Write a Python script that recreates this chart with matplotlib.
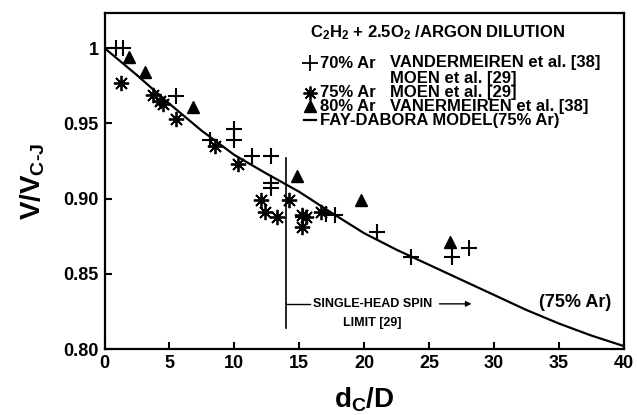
import numpy as np
import matplotlib
matplotlib.use('Agg')
import matplotlib.pyplot as plt

plt.rcParams['font.family'] = 'Liberation Sans'
plt.rcParams['font.weight'] = 'bold'
plt.rcParams['mathtext.fontset'] = 'custom'
plt.rcParams['mathtext.rm'] = 'Liberation Sans:bold'
plt.rcParams['mathtext.bf'] = 'Liberation Sans:bold'
plt.rcParams['mathtext.it'] = 'Liberation Sans:bold'

# 70% Ar (plus)
x70 = [0.9, 1.4, 5.5, 8.1, 10.0, 10.0, 11.4, 12.8, 12.8, 12.8, 15.3, 17.1, 17.8, 21.0, 23.6, 26.8, 28.1]
y70 = [1.000, 1.000, 0.968, 0.939, 0.946, 0.939, 0.928, 0.928, 0.910, 0.907, 0.888, 0.890, 0.889, 0.878, 0.861, 0.861, 0.867]
# 75% Ar (star)
x75 = [1.3, 3.7, 4.3, 4.5, 5.5, 8.5, 10.3, 12.1, 12.4, 13.3, 14.2, 15.2, 15.5, 15.2, 16.7]
y75 = [0.977, 0.969, 0.965, 0.963, 0.953, 0.935, 0.923, 0.899, 0.891, 0.888, 0.899, 0.889, 0.888, 0.881, 0.891]
# 80% Ar (triangle)
x80 = [1.9, 3.1, 6.8, 14.8, 19.8, 26.6]
y80 = [0.994, 0.984, 0.961, 0.915, 0.899, 0.871]
# Fay-Dabora model
xm = [0, 2.5, 5, 7.5, 10, 12.5, 15, 17.5, 20, 22.5, 25, 27.5, 30, 32.5, 35, 37.5, 40]
ym = [1.0, 0.982, 0.963, 0.945, 0.929, 0.9165, 0.9045, 0.8905, 0.877, 0.866, 0.856, 0.846, 0.836, 0.826, 0.817, 0.809, 0.802]

W, H = 637, 415
fig = plt.figure(figsize=(W/100., H/100.), dpi=100)
ax = fig.add_axes([104.5/W, 1-349./H, 519./W, 336./H])

ax.plot(xm, ym, color='black', lw=1.6)
ax.plot(x70, y70, ls='none', marker='+', ms=11, mew=1.5, color='black')
ax.plot(x75, y75, ls='none', marker=(8, 2, 0), ms=11, mew=1.3, color='black')
ax.plot(x80, y80, ls='none', marker='^', ms=9, color='black')

# single-head spin limit
ax.plot([14.0, 14.0], [0.814, 0.927], color='black', lw=1.2)
ax.plot([14.0, 15.8], [0.830, 0.830], color='black', lw=1.0)
ax.text(20.7, 0.830, 'SINGLE-HEAD SPIN', fontsize=9, ha='center', va='center')
ax.annotate('', xy=(28.5, 0.830), xytext=(25.6, 0.830),
            arrowprops=dict(arrowstyle='-|>', color='black', lw=1.0, mutation_scale=8))
ax.text(20.6, 0.817, 'LIMIT [29]', fontsize=9, ha='center', va='center')
ax.text(36.3, 0.831, '(75% Ar)', fontsize=13, ha='center', va='center')

ax.set_xlim(0, 40)
ax.set_ylim(0.8, 1.0233)
ax.set_xticks([0, 5, 10, 15, 20, 25, 30, 35, 40])
ax.set_yticks([0.80, 0.85, 0.90, 0.95, 1.0])
ax.set_yticklabels(['0.80', '0.85', '0.90', '0.95', '1'])
ax.tick_params(direction='in', length=5, width=1.5, labelsize=13, pad=4)
for s in ax.spines.values():
    s.set_linewidth(1.6)

ax.set_xlabel(r'$\mathbf{d_C/D}$', fontsize=20, labelpad=10)
ax.set_ylabel(r'$\mathbf{V/V_{C\text{-}J}}$', fontsize=20, labelpad=12)

# legend block
def fx(px):
    return (px - 104.5) / 519.
def fy(py):
    return (349. - py) / 336.

fs = 12
ax.text(fx(310), fy(33), r'C$_2$H$_2$ + 2.5O$_2$ /ARGON DILUTION', transform=ax.transAxes,
        fontsize=fs, va='center', ha='left')
rows = [63, 78, 92.5, 106.5, 120.5]
ax.plot(fx(310), fy(rows[0]), marker='+', ms=11, mew=1.3, color='black', transform=ax.transAxes, clip_on=False)
ax.plot(fx(310), fy(rows[2]), marker=(8, 2, 0), ms=10, mew=1.3, color='black', transform=ax.transAxes, clip_on=False)
ax.plot(fx(310), fy(rows[3]), marker='^', ms=9, color='black', transform=ax.transAxes, clip_on=False)
ax.plot([fx(304), fx(316)], [fy(rows[4]), fy(rows[4])], color='black', lw=1.6, transform=ax.transAxes, clip_on=False)
ax.text(fx(320), fy(rows[0]), '70% Ar', transform=ax.transAxes, fontsize=fs, va='center')
ax.text(fx(390), fy(rows[0]), 'VANDERMEIREN et al. [38]', transform=ax.transAxes, fontsize=fs, va='center')
ax.text(fx(390), fy(rows[1]), 'MOEN et al. [29]', transform=ax.transAxes, fontsize=fs, va='center')
ax.text(fx(320), fy(rows[2]), '75% Ar', transform=ax.transAxes, fontsize=fs, va='center')
ax.text(fx(390), fy(rows[2]), 'MOEN et al. [29]', transform=ax.transAxes, fontsize=fs, va='center')
ax.text(fx(320), fy(rows[3]), '80% Ar', transform=ax.transAxes, fontsize=fs, va='center')
ax.text(fx(390), fy(rows[3]), 'VANERMEIREN et al. [38]', transform=ax.transAxes, fontsize=fs, va='center')
ax.text(fx(320), fy(rows[4]), 'FAY-DABORA MODEL(75% Ar)', transform=ax.transAxes, fontsize=fs, va='center')

fig.savefig('out.png', dpi=100)
